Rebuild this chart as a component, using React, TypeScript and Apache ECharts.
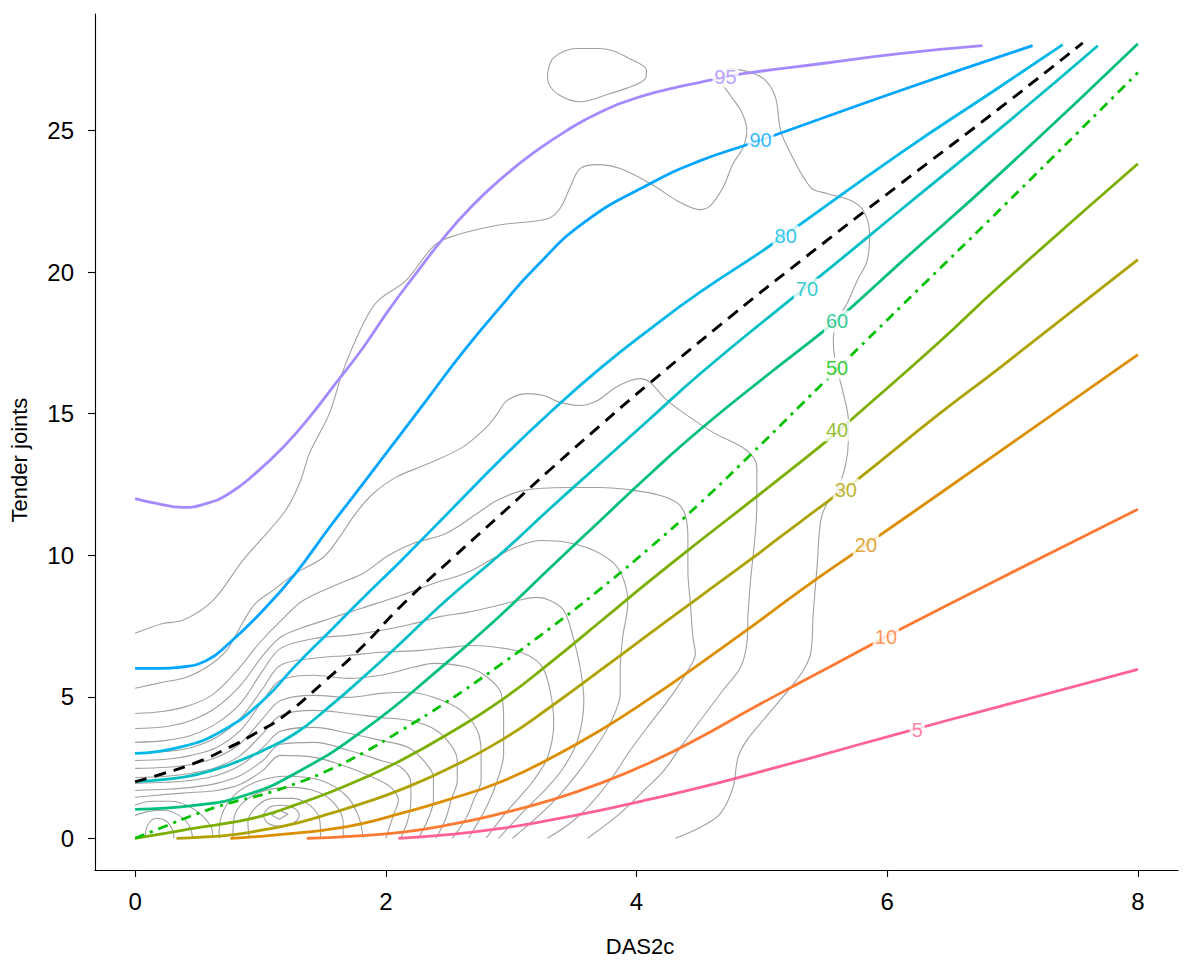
import React, { useEffect, useRef } from 'react';
import * as echarts from 'echarts';

const FONT = 'Liberation Sans, Arial, Helvetica, sans-serif';

const xTicks = [0, 2, 4, 6, 8];
const yTicks = [0, 5, 10, 15, 20, 25];
const xTitle = 'DAS2c';
const yTitle = 'Tender joints';

// centile curves [DAS2c, tender joints]
const p05 = [[2.10, 0], [2.52, 0.14], [2.92, 0.35], [3.31, 0.64], [3.71, 0.99], [4.11, 1.38], [4.51, 1.80], [4.91, 2.26], [5.41, 2.86], [6.10, 3.71], [6.90, 4.66], [8.0, 5.97]];
const p10 = [[1.37, 0], [1.72, 0.07], [2.12, 0.21], [2.52, 0.49], [2.92, 0.88], [3.31, 1.34], [3.71, 1.94], [4.11, 2.68], [4.51, 3.57], [4.91, 4.56], [5.31, 5.51], [5.86, 6.81], [6.12, 7.42], [6.90, 9.18], [8.0, 11.62]];
const p20 = [[0.76, 0], [1.00, 0.07], [1.28, 0.18], [1.56, 0.32], [1.82, 0.53], [2.12, 0.88], [2.48, 1.34], [2.92, 2.00], [3.31, 2.82], [3.71, 3.81], [4.11, 4.95], [4.51, 6.18], [4.91, 7.45], [5.31, 8.76], [5.73, 10.06], [5.94, 10.70], [6.42, 12.18], [6.90, 13.67], [8.0, 17.09]];
const p30 = [[0.33, 0], [0.53, 0.04], [0.75, 0.11], [1.00, 0.28], [1.28, 0.53], [1.56, 0.88], [1.82, 1.24], [2.12, 1.72], [2.48, 2.42], [2.92, 3.46], [3.31, 4.63], [3.71, 5.93], [4.11, 7.25], [4.51, 8.55], [4.91, 9.85], [5.31, 11.19], [5.57, 12.04], [5.77, 12.70], [6.42, 15.01], [6.90, 16.63], [8.0, 20.44]];
const p40 = [[0, 0], [0.25, 0.18], [0.49, 0.37], [0.76, 0.55], [1.02, 0.80], [1.28, 1.18], [1.55, 1.62], [1.82, 2.12], [2.12, 2.75], [2.48, 3.64], [2.92, 4.87], [3.31, 6.20], [3.71, 7.65], [4.11, 9.11], [4.51, 10.52], [4.91, 11.90], [5.31, 13.30], [5.52, 14.05], [5.69, 14.70], [6.42, 17.55], [6.90, 19.53], [8.0, 23.83]];
const p50 = [[0, 0], [0.22, 0.39], [0.49, 0.86], [0.75, 1.24], [1.02, 1.55], [1.28, 1.93], [1.55, 2.42], [1.82, 3.02], [2.12, 3.80], [2.48, 4.80], [2.92, 6.15], [3.31, 7.42], [3.71, 8.80], [4.11, 10.28], [4.51, 11.85], [4.91, 13.55], [5.31, 15.30], [5.52, 16.22], [5.71, 17.05], [6.32, 19.70], [6.90, 22.21], [8.0, 27.05]];
const p60 = [[0, 1.02], [0.49, 1.17], [0.88, 1.52], [1.28, 2.30], [1.82, 3.81], [2.48, 6.18], [2.92, 7.90], [3.31, 9.55], [3.71, 11.22], [4.11, 12.88], [4.51, 14.45], [5.04, 16.35], [5.51, 17.98], [5.69, 18.66], [6.10, 20.31], [6.90, 23.48], [8.0, 28.07]];
const p70 = [[0, 2.0], [0.22, 2.07], [0.49, 2.25], [0.75, 2.60], [1.02, 3.10], [1.28, 3.71], [1.55, 4.65], [1.82, 5.69], [2.12, 6.90], [2.48, 8.40], [2.92, 10.06], [3.31, 11.65], [3.71, 13.24], [4.11, 14.83], [4.51, 16.42], [5.25, 19.11], [5.44, 19.77], [6.10, 22.17], [6.90, 25.07], [7.68, 28.0]];
const p80 = [[0, 3.0], [0.35, 3.21], [0.70, 3.81], [1.02, 4.87], [1.28, 6.10], [1.55, 7.30], [1.82, 8.50], [2.12, 9.80], [2.52, 11.60], [2.92, 13.40], [3.31, 15.04], [3.71, 16.60], [4.11, 18.0], [4.51, 19.30], [5.07, 20.95], [6.10, 24.19], [6.90, 26.55], [7.40, 28.04]];
const p90 = [[0, 6.0], [0.21, 6.0], [0.35, 6.04], [0.57, 6.28], [0.75, 6.89], [1.02, 8.05], [1.28, 9.36], [1.55, 10.98], [1.82, 12.54], [2.08, 14.05], [2.34, 15.57], [2.61, 17.15], [2.92, 18.80], [3.18, 20.10], [3.58, 21.75], [4.11, 23.13], [4.51, 23.94], [4.88, 24.50], [5.09, 24.82], [6.10, 26.41], [7.16, 28.0]];
const p95 = [[0, 12.0], [0.17, 11.83], [0.38, 11.69], [0.57, 11.83], [0.75, 12.18], [0.96, 12.89], [1.18, 13.81], [1.39, 14.87], [1.60, 16.07], [1.82, 17.34], [2.02, 18.64], [2.24, 19.95], [2.45, 21.15], [2.68, 22.30], [2.92, 23.30], [3.18, 24.22], [3.45, 25.02], [3.71, 25.65], [4.03, 26.20], [4.35, 26.56], [4.59, 26.78], [4.85, 27.01], [5.50, 27.38], [6.10, 27.72], [6.76, 28.0]];
const meanCurve = [[0, 2.0], [0.22, 2.28], [0.49, 2.68], [0.75, 3.21], [0.96, 3.71], [1.18, 4.30], [1.50, 5.50], [1.82, 6.80], [2.12, 8.20], [2.52, 9.85], [2.92, 11.45], [3.31, 13.02], [3.71, 14.58], [4.11, 16.10], [4.77, 18.50], [5.31, 20.40], [6.10, 23.10], [6.90, 25.80], [7.56, 28.10]];

const centileCurves = [p05, p10, p20, p30, p40, p50, p60, p70, p80, p90, p95];
const centileNames = ['5', '10', '20', '30', '40', '50', '60', '70', '80', '90', '95'];
const centileColors = ['#FF6392', '#FC7A33', '#DB8E00', '#AEA200', '#7CAE00', '#00C000', '#00BF7D', '#00BFC4', '#00B8E7', '#00A5FF', '#A58AFF'];

// curve labels
const labelNames = ['95', '90', '80', '70', '60', '50', '40', '30', '20', '10', '5'];
const labelX = [4.71, 4.99, 5.19, 5.36, 5.60, 5.60, 5.60, 5.67, 5.83, 5.99, 6.24];
const labelY = [26.91, 24.66, 21.26, 19.39, 18.26, 16.60, 14.41, 12.32, 10.35, 7.10, 3.81];
const labelColors = ['#A58AFF', '#00A5FF', '#00B8E7', '#00BFC4', '#00BF7D', '#00C000', '#7CAE00', '#AEA200', '#DB8E00', '#FC7A33', '#FF6392'];

// density contours
const contour01 = [[0, 7.24], [0.22, 7.59], [0.38, 7.70], [0.62, 8.40], [0.86, 9.82], [1.20, 11.58], [1.32, 12.64], [1.39, 13.59], [1.55, 15.01], [1.66, 16.53], [1.82, 18.18], [1.94, 19.00], [2.16, 19.70], [2.37, 20.87], [2.50, 21.22], [2.88, 21.65], [3.29, 21.89], [3.39, 22.25], [3.47, 22.99], [3.55, 23.66], [3.69, 23.80], [3.87, 23.66], [4.11, 23.13], [4.35, 22.46], [4.51, 22.21], [4.59, 22.35], [4.69, 22.99], [4.77, 23.83], [4.85, 24.40], [4.88, 25.00], [4.84, 25.64], [4.75, 26.24], [4.69, 26.69], [4.74, 27.19], [4.91, 27.05], [5.03, 26.77], [5.11, 26.16], [5.15, 25.00], [5.23, 24.19], [5.39, 22.99], [5.52, 22.78], [5.71, 22.53], [5.81, 22.17], [5.86, 21.36], [5.84, 20.41], [5.76, 19.70], [5.68, 18.89], [5.60, 18.29], [5.57, 17.58], [5.59, 16.77], [5.65, 15.71], [5.69, 14.76], [5.69, 14.05], [5.67, 13.24], [5.60, 12.29], [5.52, 11.83], [5.47, 11.23], [5.44, 9.57], [5.41, 7.94], [5.39, 6.53], [5.33, 5.93], [5.23, 5.33], [5.01, 4.17], [4.88, 3.46], [4.81, 2.86], [4.77, 1.80], [4.67, 0.88], [4.51, 0.39], [4.31, 0]];
const contourIsland = [[3.29, 27.01], [3.34, 27.58], [3.53, 27.90], [3.71, 27.90], [3.98, 27.47], [4.08, 27.12], [4.07, 26.84], [3.98, 26.59], [3.79, 26.31], [3.55, 26.02], [3.39, 26.24], [3.30, 26.66], [3.29, 27.01]];
const contour02 = [[0, 5.30], [0.22, 5.51], [0.41, 5.69], [0.57, 6.04], [0.73, 6.64], [0.86, 7.63], [0.96, 8.30], [1.10, 8.76], [1.28, 9.36], [1.50, 9.92], [1.63, 10.63], [1.76, 11.48], [1.90, 12.18], [2.08, 12.75], [2.34, 13.24], [2.61, 13.81], [2.80, 14.51], [2.88, 14.94], [2.97, 15.47], [3.13, 15.71], [3.26, 15.64], [3.39, 15.40], [3.55, 15.29], [3.69, 15.47], [3.82, 15.89], [3.95, 16.17], [4.03, 16.24], [4.11, 16.10], [4.22, 15.57], [4.35, 15.11], [4.61, 14.34], [4.88, 13.70], [4.96, 13.10], [4.96, 12.04], [4.95, 10.88], [4.91, 9.11], [4.89, 7.94], [4.88, 6.89], [4.83, 6.04], [4.69, 5.23], [4.51, 4.17], [4.35, 3.21], [4.22, 2.40], [4.06, 1.69], [3.87, 0.88], [3.61, 0]];
const contour03 = [[0, 4.41], [0.22, 4.48], [0.41, 4.66], [0.61, 5.05], [0.80, 5.86], [0.99, 6.89], [1.15, 7.63], [1.34, 8.40], [1.63, 9.00], [1.82, 9.36], [2.02, 9.99], [2.22, 10.42], [2.48, 10.77], [2.74, 11.51], [2.89, 11.94], [3.10, 12.29], [3.45, 12.39], [3.71, 12.39], [3.98, 12.29], [4.19, 12.11], [4.33, 11.83], [4.39, 11.41], [4.41, 10.63], [4.41, 9.46], [4.43, 8.30], [4.45, 7.10], [4.47, 6.53], [4.41, 5.93], [4.27, 4.98], [4.11, 4.06], [3.95, 3.11], [3.79, 2.05], [3.61, 1.09], [3.47, 0.53], [3.29, 0]];
const contour04 = [[0, 3.88], [0.25, 3.95], [0.45, 4.17], [0.65, 4.63], [0.84, 5.40], [1.02, 6.46], [1.16, 7.10], [1.32, 7.42], [1.56, 7.77], [1.80, 8.12], [2.12, 8.58], [2.38, 9.00], [2.65, 9.39], [2.86, 9.89], [3.05, 10.31], [3.24, 10.52], [3.45, 10.45], [3.66, 10.17], [3.82, 9.71], [3.90, 9.11], [3.93, 8.30], [3.89, 7.10], [3.87, 5.93], [3.87, 5.12], [3.79, 4.06], [3.66, 3.11], [3.53, 2.30], [3.37, 1.45], [3.18, 0.64], [3.01, 0]];
const contour05 = [[0, 3.39], [0.25, 3.46], [0.45, 3.64], [0.65, 4.06], [0.84, 4.77], [1.02, 5.93], [1.16, 6.71], [1.43, 7.06], [1.70, 7.17], [1.96, 7.34], [2.20, 7.56], [2.44, 7.84], [2.65, 7.98], [2.86, 8.19], [3.05, 8.40], [3.21, 8.51], [3.31, 8.40], [3.42, 8.05], [3.49, 7.17], [3.55, 6.04], [3.58, 4.87], [3.53, 3.46], [3.42, 2.51], [3.29, 1.80], [3.13, 1.09], [2.90, 0]];
const contour06 = [[0, 3.00], [0.25, 3.07], [0.45, 3.21], [0.65, 3.57], [0.84, 4.24], [1.02, 5.30], [1.16, 6.11], [1.43, 6.36], [1.70, 6.46], [1.96, 6.57], [2.28, 6.64], [2.49, 6.74], [2.70, 6.81], [2.89, 6.74], [3.08, 6.57], [3.24, 6.11], [3.31, 5.23], [3.34, 4.06], [3.29, 2.86], [3.18, 2.05], [3.08, 1.52], [2.94, 0.81], [2.80, 0]];
const contour07 = [[0, 2.75], [0.25, 2.79], [0.45, 2.93], [0.65, 3.21], [0.84, 3.81], [1.02, 4.87], [1.16, 5.58], [1.43, 5.76], [1.70, 5.65], [1.96, 5.76], [2.22, 6.04], [2.38, 6.18], [2.65, 6.04], [2.81, 5.69], [2.92, 5.12], [2.94, 4.17], [2.94, 3.00], [2.89, 2.05], [2.81, 1.17], [2.66, 0]];
const contour08 = [[0, 2.47], [0.25, 2.51], [0.45, 2.61], [0.65, 2.86], [0.84, 3.35], [1.02, 4.24], [1.16, 4.87], [1.43, 5.05], [1.70, 4.98], [1.96, 5.12], [2.18, 5.16], [2.38, 4.98], [2.60, 4.52], [2.73, 3.81], [2.76, 3.00], [2.76, 2.05], [2.70, 1.34], [2.64, 0.71], [2.53, 0]];
const contour09 = [[0, 2.15], [0.25, 2.19], [0.45, 2.30], [0.65, 2.51], [0.84, 2.93], [1.02, 3.71], [1.16, 4.34], [1.43, 4.52], [1.70, 4.41], [1.96, 4.27], [2.18, 4.17], [2.36, 3.92], [2.49, 3.46], [2.57, 2.75], [2.57, 2.05], [2.52, 1.34], [2.48, 0.71], [2.40, 0]];
const contour10 = [[0, 1.94], [0.25, 1.98], [0.45, 2.05], [0.65, 2.22], [0.84, 2.58], [1.02, 3.21], [1.16, 3.78], [1.43, 3.92], [1.70, 3.71], [1.96, 3.46], [2.18, 3.21], [2.30, 2.75], [2.38, 2.15], [2.38, 1.34], [2.34, 0.71], [2.26, 0]];
const contour11 = [[0, 1.69], [0.25, 1.73], [0.45, 1.80], [0.65, 1.94], [0.84, 2.22], [1.02, 2.75], [1.16, 3.32], [1.43, 3.39], [1.70, 3.11], [1.96, 2.75], [2.12, 2.51], [2.20, 1.94], [2.20, 1.34], [2.18, 0.71], [2.12, 0]];
const contour12 = [[0, 1.45], [0.25, 1.55], [0.45, 1.62], [0.65, 1.69], [0.84, 1.91], [1.02, 2.40], [1.16, 2.93], [1.43, 2.86], [1.70, 2.51], [1.90, 2.15], [2.04, 1.80], [2.10, 1.34], [2.06, 0.81], [2.00, 0]];
const leftMode3 = [[0, 1.17], [0.13, 1.31], [0.29, 1.31], [0.43, 1.13], [0.54, 0.78], [0.61, 0.35], [0.62, 0]];
const leftMode2 = [[0, 0.81], [0.11, 0.95], [0.23, 0.99], [0.35, 0.81], [0.43, 0.46], [0.46, 0]];
const leftMode1 = [[0.08, 0], [0.10, 0.46], [0.17, 0.71], [0.25, 0.60], [0.30, 0.28], [0.31, 0]];
const rightMode4 = [[0.67, 0], [0.69, 0.81], [0.79, 1.52], [0.96, 1.98], [1.20, 2.19], [1.48, 2.05], [1.68, 1.52], [1.78, 0.81], [1.82, 0]];
const rightMode3 = [[0.78, 0], [0.79, 0.74], [0.88, 1.34], [1.04, 1.69], [1.24, 1.80], [1.47, 1.62], [1.60, 1.17], [1.66, 0.56], [1.66, 0]];
const rightMode2 = [[0.91, 0], [0.90, 0.56], [0.97, 1.13], [1.10, 1.41], [1.26, 1.41], [1.39, 1.17], [1.47, 0.71], [1.48, 0]];
const rightMode1 = [[1.02, 0.81], [1.07, 1.09], [1.16, 1.17], [1.27, 1.06], [1.31, 0.81], [1.26, 0.53], [1.16, 0.42], [1.06, 0.53], [1.02, 0.81]];
const rightMode0 = [[1.09, 0.81], [1.15, 0.99], [1.22, 0.85], [1.15, 0.67], [1.09, 0.81]];

const contours = [contour01, contourIsland, contour02, contour03, contour04, contour05, contour06, contour07, contour08, contour09, contour10, contour11, contour12, leftMode3, leftMode2, leftMode1, rightMode4, rightMode3, rightMode2, rightMode1];

export default function App() {
  const ref = useRef<HTMLDivElement>(null);
  useEffect(() => {
    if (!ref.current) return;
    const chart = echarts.init(ref.current, null, { renderer: 'svg' });
    const series: any[] = [];
    const gray = { color: '#a0a0a0', width: 1.1 };
    contours.forEach((c, i) => {
      series.push({
        type: 'line', name: 'contour' + i, data: c, smooth: 0.35, symbol: 'none', silent: true, z: 1,
        lineStyle: gray,
      });
    });
    series.push({
      type: 'line', name: 'mode', data: rightMode0, smooth: false, symbol: 'none', silent: true, z: 1,
      lineStyle: gray,
    });
    centileCurves.forEach((c, i) => {
      series.push({
        type: 'line', name: 'p' + centileNames[i], data: c, smooth: 0.5, symbol: 'none', silent: true, z: 2,
        lineStyle: { color: centileColors[i], width: 2.8, type: centileNames[i] === '50' ? [10, 6, 3, 6] : 'solid' },
      });
    });
    series.push({
      type: 'line', name: 'mean', data: meanCurve, smooth: 0.5, symbol: 'none', silent: true, z: 3,
      lineStyle: { color: '#000000', width: 2.9, type: [12, 8] },
    });
    series.push({
      type: 'scatter', name: 'labels', z: 10, symbol: 'rect', symbolSize: 1, silent: true,
      itemStyle: { color: 'rgba(0,0,0,0)' },
      data: labelNames.map((n, i) => ({
        name: n, value: [labelX[i], labelY[i]],
        label: { color: labelColors[i] },
      })),
      label: {
        show: true, position: 'inside', formatter: '{b}', fontSize: 20, fontFamily: FONT,
        backgroundColor: '#ffffff', padding: [1, 2],
      },
    });
    chart.setOption({
      animation: false,
      backgroundColor: '#ffffff',
      grid: { left: 95, right: 12, top: 14, bottom: 98 },
      graphic: [
        {
          type: 'text', x: 640, y: 946, silent: true,
          style: { text: xTitle, fontSize: 22, fill: '#000', fontFamily: FONT, textAlign: 'center', textVerticalAlign: 'middle' },
        },
        {
          type: 'text', x: 19, y: 460, rotation: Math.PI / 2, silent: true,
          style: { text: yTitle, fontSize: 22, fill: '#000', fontFamily: FONT, textAlign: 'center', textVerticalAlign: 'middle' },
        },
      ],
      xAxis: {
        type: 'value', min: -0.32, max: 8.32,
        axisLine: { show: true, onZero: false, lineStyle: { color: '#000', width: 1.1 } },
        axisTick: { show: true, length: 7, customValues: xTicks, lineStyle: { color: '#000', width: 1.1 } },
        axisLabel: { customValues: xTicks, fontSize: 24, color: '#000', margin: 19, fontFamily: FONT },
        splitLine: { show: false },
      },
      yAxis: {
        type: 'value', min: -1.12, max: 29.12,
        axisLine: { show: true, onZero: false, lineStyle: { color: '#000', width: 1.1 } },
        axisTick: { show: true, length: 7, customValues: yTicks, lineStyle: { color: '#000', width: 1.1 } },
        axisLabel: { customValues: yTicks, fontSize: 24, color: '#000', margin: 21, fontFamily: FONT },
        splitLine: { show: false },
      },
      series,
    });
    return () => chart.dispose();
  }, []);
  return <div ref={ref} style={{ position: 'fixed', left: 0, top: 0, width: 1190, height: 968 }} />;
}
